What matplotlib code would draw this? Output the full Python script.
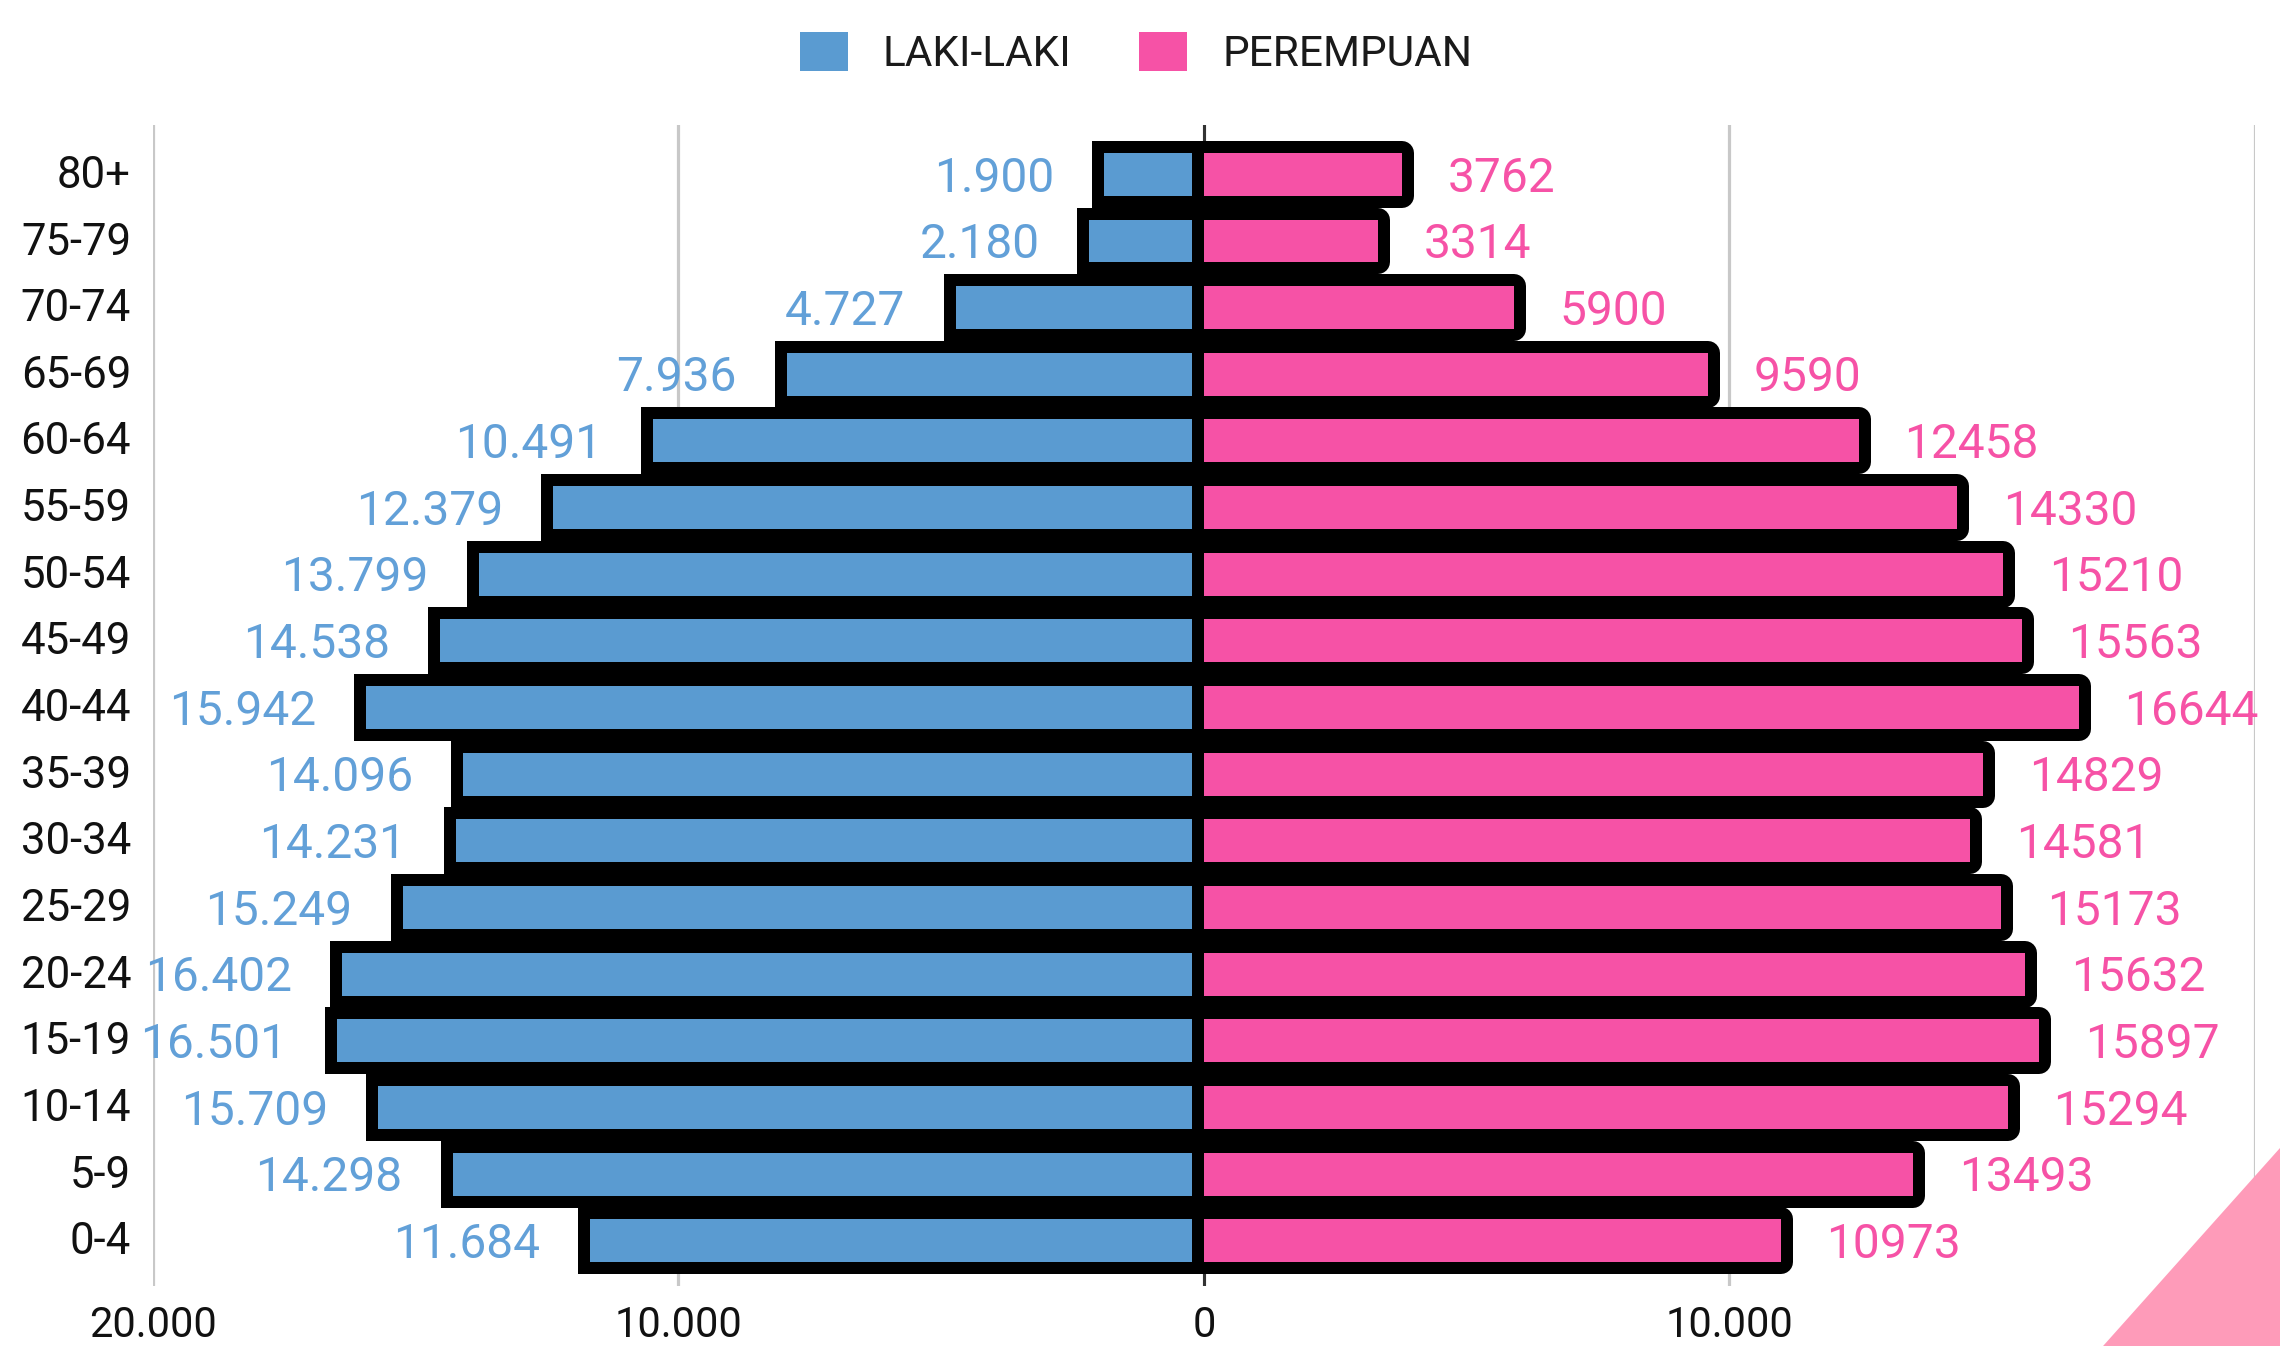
import matplotlib
matplotlib.use("Agg")
import matplotlib.pyplot as plt
from matplotlib.patches import Patch, Polygon
from matplotlib.transforms import ScaledTranslation

plt.rcParams['font.family'] = ['Roboto', 'DejaVu Sans']

# Kelompok umur, dari bawah (0-4) ke atas (80+)
kelompok_umur = ['0-4', '5-9', '10-14', '15-19', '20-24', '25-29', '30-34', '35-39',
                 '40-44', '45-49', '50-54', '55-59', '60-64', '65-69', '70-74', '75-79', '80+']

laki_laki = [11684, 14298, 15709, 16501, 16402, 15249, 14231, 14096,
             15942, 14538, 13799, 12379, 10491, 7936, 4727, 2180, 1900]

perempuan = [10973, 13493, 15294, 15897, 15632, 15173, 14581, 14829,
             16644, 15563, 15210, 14330, 12458, 9590, 5900, 3314, 3762]

x_ticks = [-20000, -10000, 0, 10000, 20000]
x_tick_labels = ['20.000', '10.000', '0', '10.000', '']

BIRU = '#5a9bd1'
PINK = '#f652a6'
TINGGI = 0.645        # tinggi batang berwarna
CELAH = 230           # garis hitam pemisah di sisi laki-laki
TEPI = 24 * 72 / 100  # tebal garis hitam (24 px)

fig = plt.figure(figsize=(22.8, 13.46), dpi=100)
ax = fig.add_axes([0.0671, 0.0446, 0.9219, 0.8625])

y = list(range(len(kelompok_umur)))
neg_laki = [-v for v in laki_laki]
lebar_biru = [v - CELAH for v in laki_laki]

# garis tepi hitam tebal di belakang batang
ax.barh(y, laki_laki, left=neg_laki, height=TINGGI, color='black',
        edgecolor='black', linewidth=TEPI, joinstyle='miter', zorder=2)
ax.barh(y, perempuan, left=0, height=TINGGI, color='black',
        edgecolor='black', linewidth=TEPI, joinstyle='round', zorder=2)

# batang berwarna
ax.barh(y, lebar_biru, left=neg_laki, height=TINGGI, color=BIRU, linewidth=0, zorder=3)
ax.barh(y, perempuan, left=0, height=TINGGI, color=PINK, linewidth=0, zorder=3)

# label nilai
for i, (l, p) in enumerate(zip(laki_laki, perempuan)):
    ax.annotate(f'{l:,}'.replace(',', '.'), xy=(-l, i), xytext=(-36, -3),
                textcoords='offset points', ha='right', va='center',
                fontsize=34.5, color='#62a0d8', zorder=4)
    ax.annotate(str(p), xy=(p, i), xytext=(33, -3),
                textcoords='offset points', ha='left', va='center',
                fontsize=34.5, color=PINK, zorder=4)

ax.set_xlim(-20000, 20000)
ax.set_ylim(-0.68, 16.74)
ax.set_xticks(x_ticks)
ax.set_xticklabels(x_tick_labels)
ax.set_yticks(y)
ax.set_yticklabels(kelompok_umur)
ax.tick_params(axis='x', length=0, pad=13.5, labelsize=30, labelcolor='#111111')
ax.tick_params(axis='y', length=0, pad=15.8, labelsize=31.5, labelcolor='#111111')
for lbl in ax.get_yticklabels():
    lbl.set_transform(lbl.get_transform() + ScaledTranslation(0, 0.03, fig.dpi_scale_trans))

ax.grid(axis='x', color='#c8c8c8', linewidth=2.3)
ax.grid(axis='y', visible=False)
ax.set_axisbelow(True)
ax.axvline(0, color='#333333', linewidth=2.2, zorder=1)
for s in ax.spines.values():
    s.set_visible(False)

handles = [Patch(facecolor=BIRU, label='LAKI-LAKI'), Patch(facecolor=PINK, label='PEREMPUAN')]
fig.legend(handles=handles, loc='center', bbox_to_anchor=(1136 / 2280, 0.9606), ncol=2,
           frameon=False, fontsize=30.5, handlelength=1.13, handleheight=1.04,
           handletextpad=0.83, columnspacing=1.6, labelcolor='#1a1a1a')

# segitiga dekoratif di pojok kanan bawah
fig.add_artist(Polygon([(1.0, 0.1471), (0.9224, 0.0), (1.0, 0.0)], closed=True,
                       transform=fig.transFigure, facecolor='#fe9bb9', edgecolor='none',
                       zorder=10))

fig.savefig('out.png', dpi=100, facecolor='white')
